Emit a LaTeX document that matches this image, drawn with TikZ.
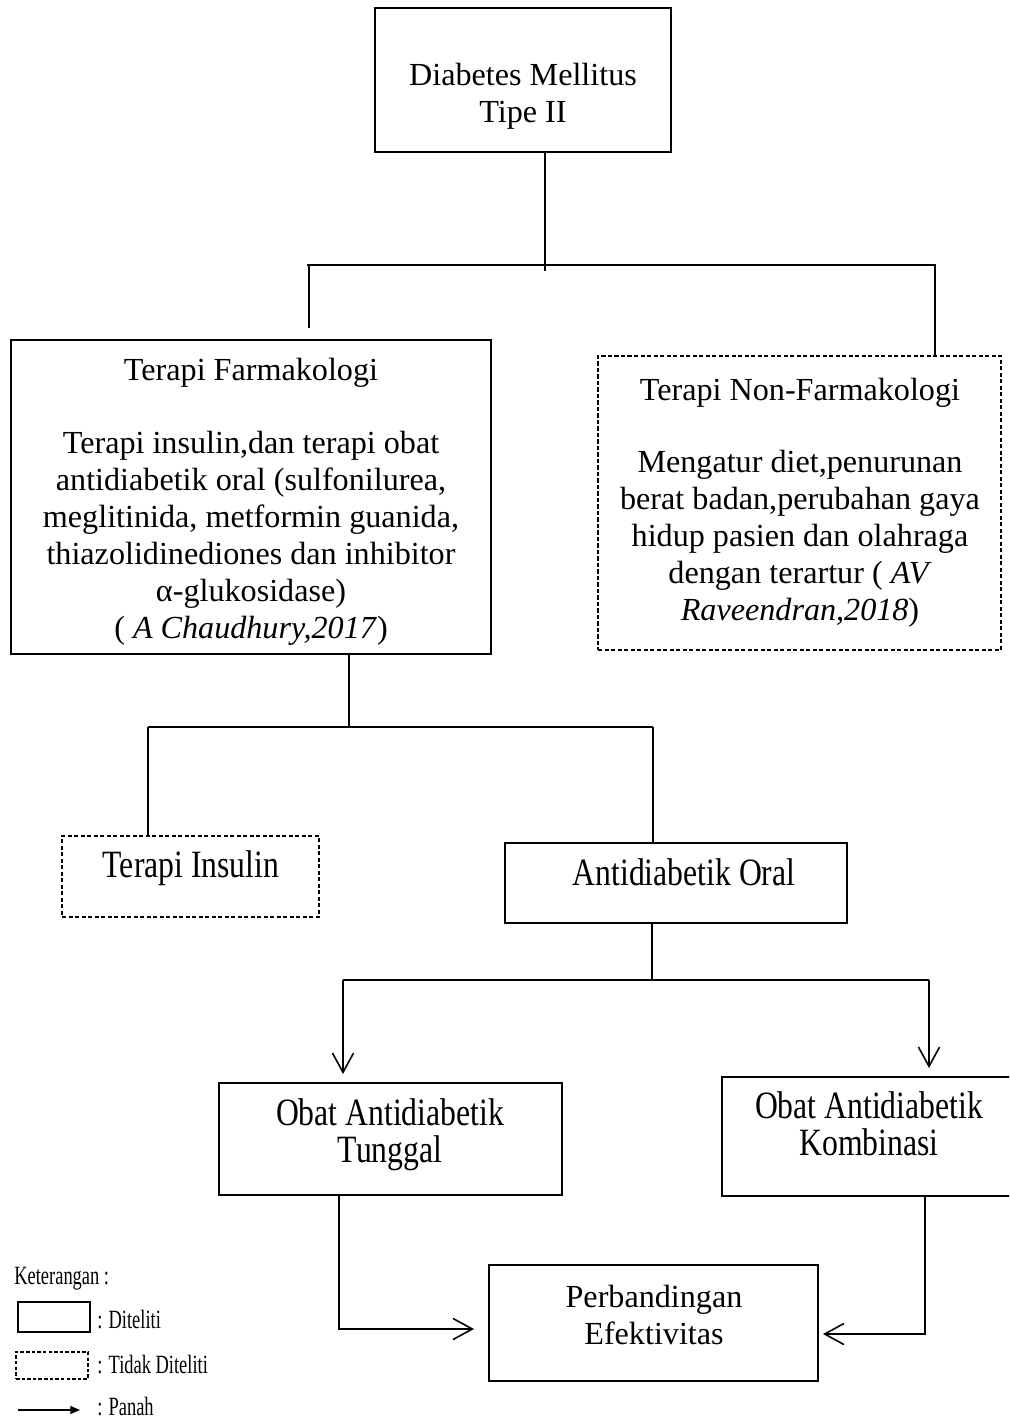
\documentclass[tikz,border=0pt]{standalone}
\usepackage{fontspec}
\setmainfont{Liberation Serif}
\newfontfamily\tallserif[FakeStretch=0.82]{Liberation Serif}
\newfontfamily\legserif[FakeStretch=0.7]{Liberation Serif}
\usetikzlibrary{arrows.meta,fit,calc}
\begin{document}
\begin{tikzpicture}[x=0.02cm,y=-0.02cm,
  box/.style={draw, line width=0.9pt, inner sep=0pt, outer sep=0pt},
  dbox/.style={box, line width=0.8pt, dash pattern=on 2.5pt off 1.2pt},
  lbl/.style={inner sep=0pt, outer sep=0pt, anchor=north, align=center, font=\fontsize{18.3}{21}\selectfont},
  tlbl/.style={lbl, font=\tallserif\fontsize{22}{21}\selectfont},
  conn/.style={line width=0.9pt},
  arr/.style={conn, -{Straight Barb[length=11pt,width=12pt]}},
  legtext/.style={anchor=base west, inner sep=0pt, font=\legserif\fontsize{15}{17}\selectfont}]
\useasboundingbox (0,0) rectangle (1009,1420);
\clip (0,0) rectangle (1009,1420);
\fill[white] (0,0) rectangle (1009,1420);

% boxes
\node[box, fit={(375,8)(671,152)}] (dm) {};
\node[lbl] (dmt) at (523,57) {\rule{0pt}{16pt}Diabetes Mellitus\\Tipe II};

\node[box, fit={(11,340)(491,654)}] (tf) {};
\node[lbl] (tft) at (251,352) {\rule{0pt}{16pt}Terapi Farmakologi\\[21pt]Terapi insulin,dan terapi obat\\antidiabetik oral (sulfonilurea,\\meglitinida, metformin guanida,\\thiazolidinediones dan inhibitor\\α-glukosidase)\\( \textit{A Chaudhury,2017})};

\node[dbox, fit={(598,356)(1001,650)}] (tn) {};
\node[lbl] (tnt) at (800,372) {\rule{0pt}{16pt}Terapi Non-Farmakologi\\[20.2pt]Mengatur diet,penurunan\\berat badan,perubahan gaya\\hidup pasien dan olahraga\\dengan terartur ( \textit{AV}\\\textit{Raveendran,2018})};

\node[dbox, fit={(62,836)(319,917)}] (ti) {};
\node[tlbl] (tit) at (191,844.5) {\rule{0pt}{19pt}Terapi Insulin};

\node[box, fit={(505,843)(847,923)}] (ao) {};
\node[tlbl] (aot) at (684,852.5) {\rule{0pt}{19pt}Antidiabetik Oral};

\node[box, fit={(219,1083)(562,1195)}] (ot) {};
\node[tlbl] (ott) at (390,1092.5) {\rule{0pt}{19pt}Obat Antidiabetik\\Tunggal};

\node[box, fit={(722,1077)(1020,1196)}] (ok) {};
\node[tlbl] (okt) at (869,1085.5) {\rule{0pt}{19pt}Obat Antidiabetik\\Kombinasi};

\node[box, fit={(489,1265)(818,1381)}] (pe) {};
\node[lbl] (pet) at (654,1279) {\rule{0pt}{16pt}Perbandingan\\Efektivitas};

% level 1 connectors
\coordinate (b1) at (545,265);
\coordinate (b1L) at (307,265);
\coordinate (b1R) at (936,265);
\coordinate (d1L) at (309,328);
\coordinate (d1R) at (935,265);
\draw[conn] (dm.south -| b1) -- ($(b1)+(0,6)$);
\draw[conn] (b1L) -- (b1R);
\draw[conn] (d1L |- b1) -- (d1L);
\draw[conn] (d1R) -- (d1R |- tn.north);

% level 2 connectors
\coordinate (b2) at (349,727);
\coordinate (b2L) at (148,727);
\coordinate (b2R) at (653,727);
\draw[conn] (tf.south -| b2) -- (b2);
\draw[conn] (b2L) -- (b2R);
\draw[conn] (b2L) -- (b2L |- ti.north);
\draw[conn] (b2R) -- (b2R |- ao.north);

% level 3 connectors
\coordinate (b3) at (652,980);
\coordinate (b3L) at (343,980);
\coordinate (b3R) at (929,980);
\coordinate (a3L) at (343,1074);
\coordinate (a3R) at (929,1068);
\draw[conn] (ao.south -| b3) -- (b3);
\draw[conn] (b3L) -- (b3R);
\draw[arr] (b3L) -- (a3L);
\draw[arr] (b3R) -- (a3R);

% level 4 connectors
\coordinate (c1) at (339,1329);
\coordinate (c1e) at (474,1329);
\coordinate (c2) at (925,1334);
\coordinate (c2e) at (823,1334);
\draw[arr] (ot.south -| c1) -- (c1) -- (c1e);
\draw[arr] (ok.south -| c2) -- (c2) -- (c2e);

% legend
\node[legtext] (kt) at (14,1284) {Keterangan :};
\node[draw, line width=0.6pt, inner sep=0pt, fit={(18,1302)(90,1332)}] (lg1) {};
\node[legtext] (lg1t) at (97,1328) {: Diteliti};
\node[draw, line width=0.6pt, dash pattern=on 2pt off 1.2pt, inner sep=0pt, fit={(16,1352)(88,1379)}] (lg2) {};
\node[legtext] (lg2t) at (97,1373) {: Tidak Diteliti};
\coordinate (lg3a) at (18,1410);
\coordinate (lg3b) at (80,1410);
\draw[line width=0.7pt, -{Triangle[length=5.5pt,width=4.5pt]}] (lg3a) -- (lg3b);
\node[legtext] (lg3t) at (97,1415) {: Panah};
\end{tikzpicture}
\end{document}
